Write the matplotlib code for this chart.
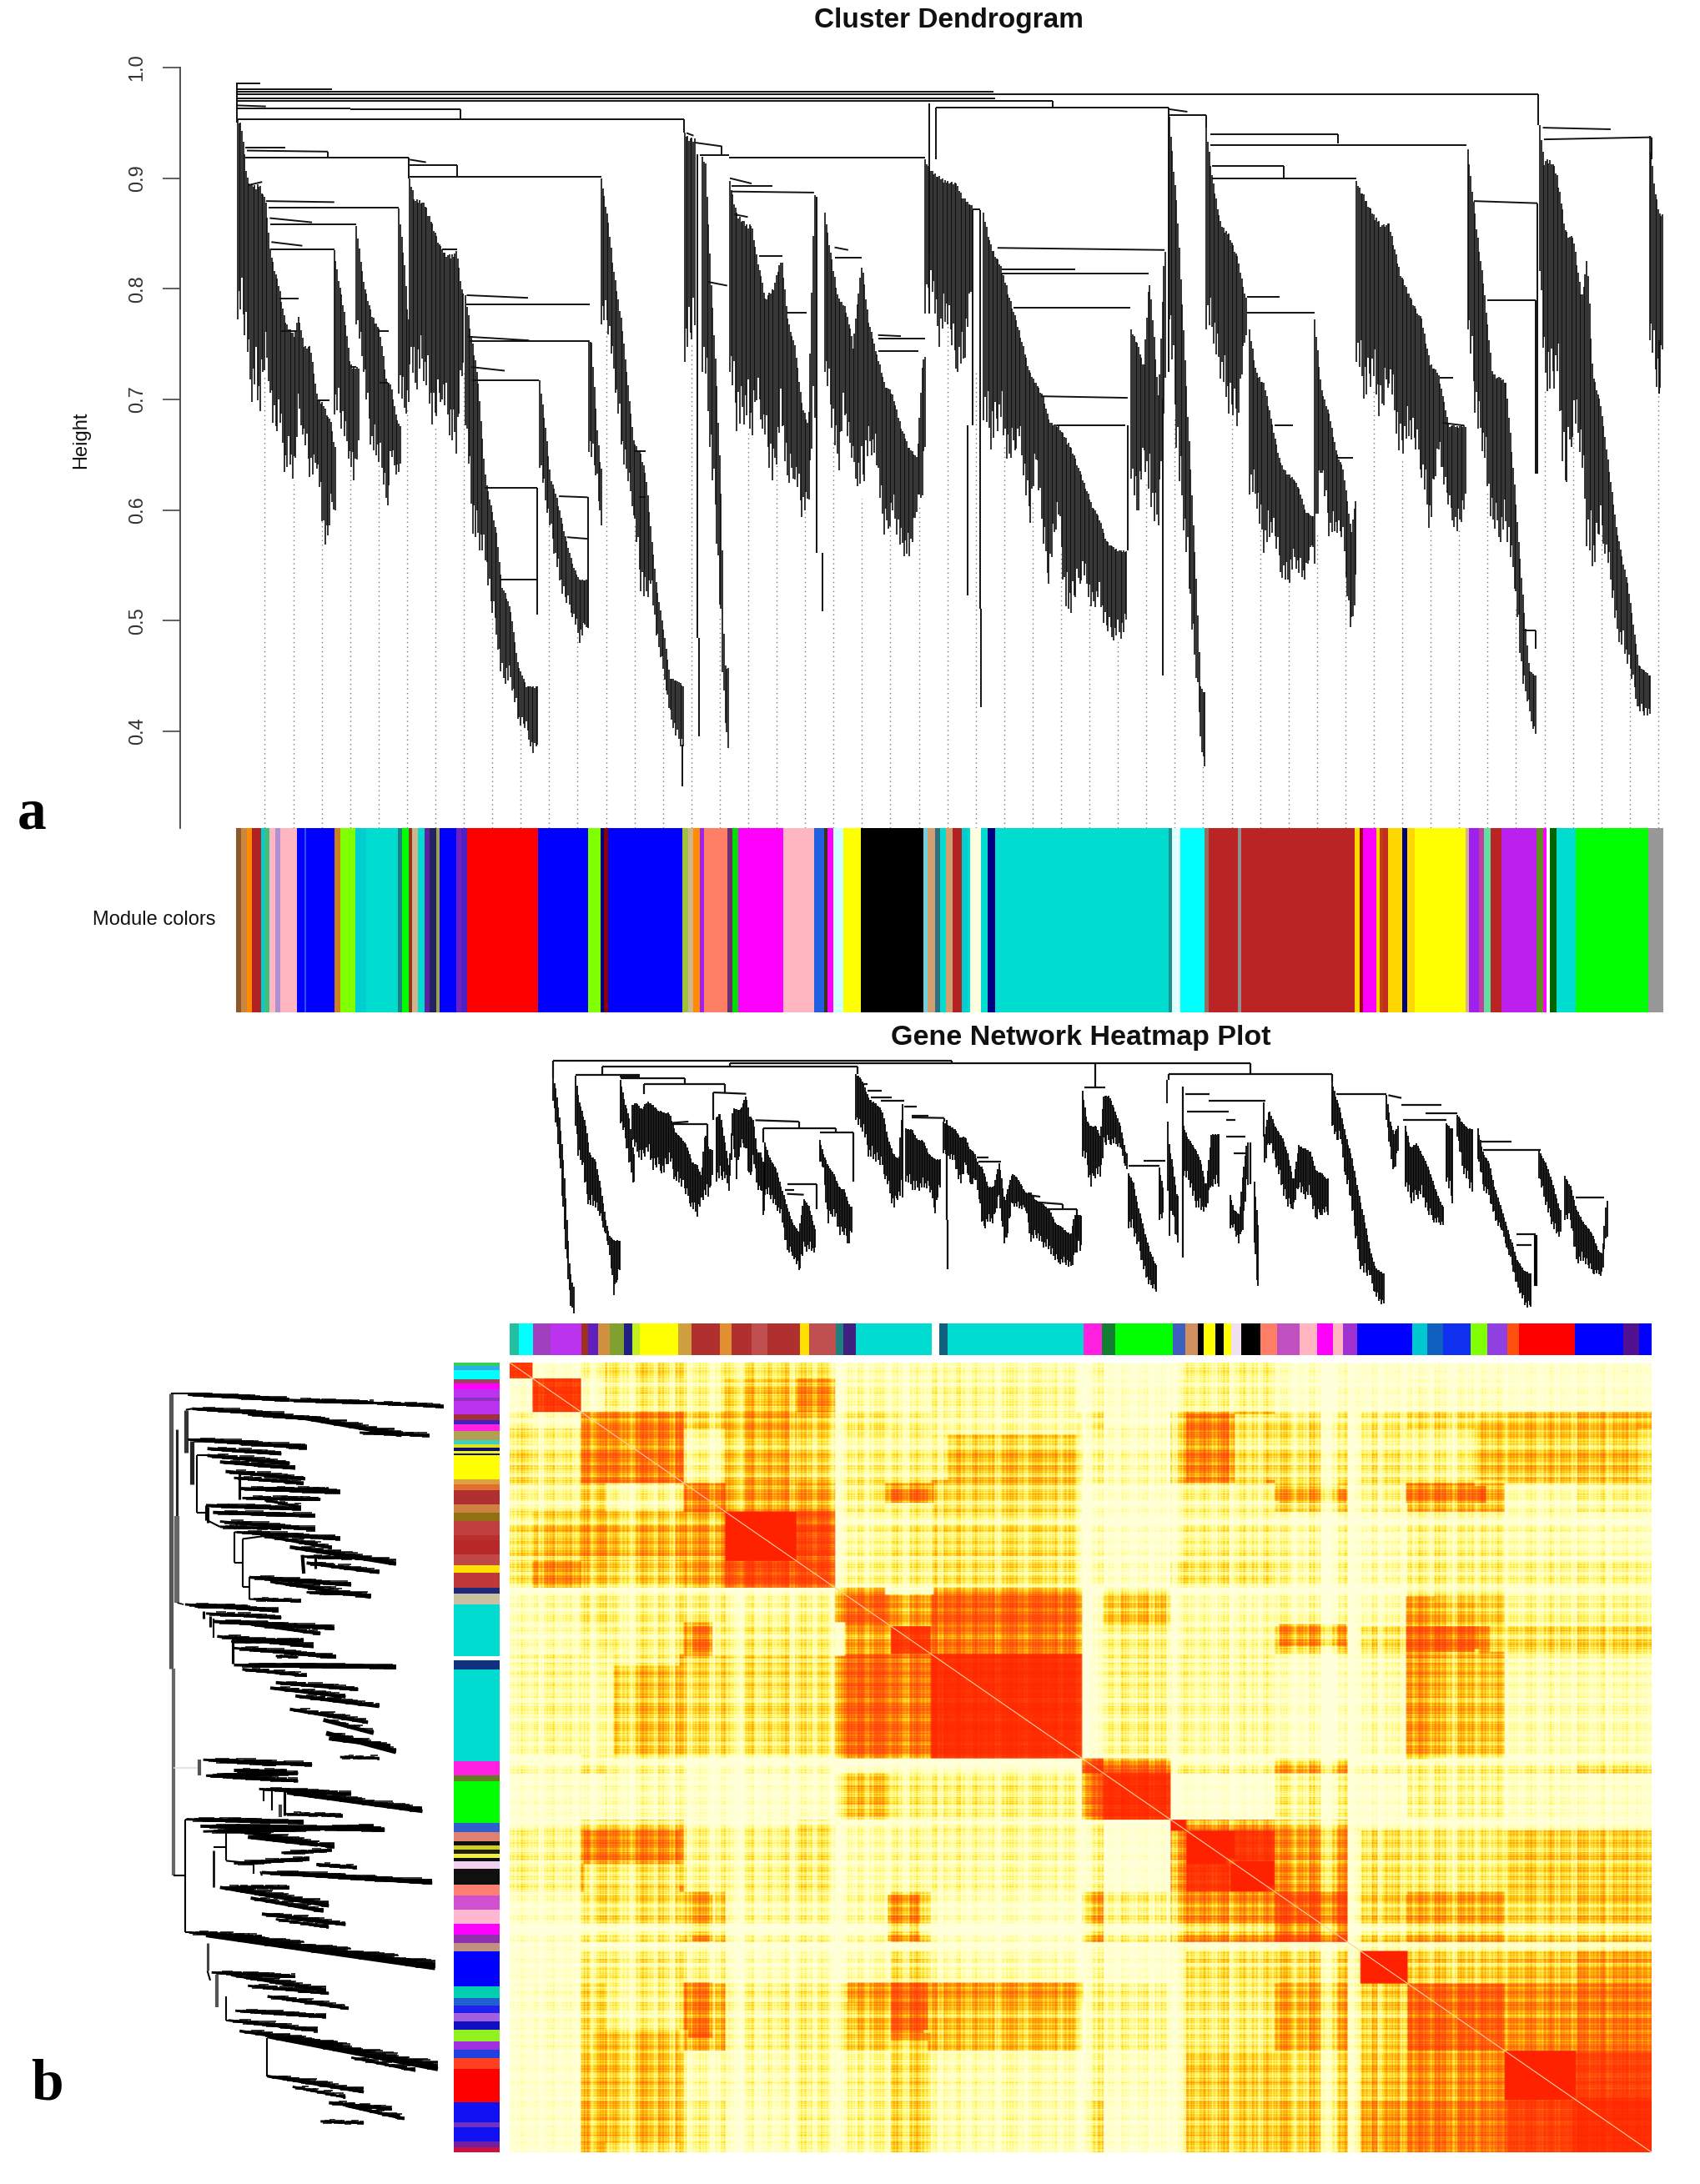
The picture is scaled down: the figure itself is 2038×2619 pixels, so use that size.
import numpy as np
import matplotlib
matplotlib.use('Agg')
import matplotlib.pyplot as plt
from matplotlib.colors import LinearSegmentedColormap

W, H = 2038, 2619
plt.rcParams['font.family'] = ['Liberation Sans', 'DejaVu Sans']

# ── panel a : dendrogram, (leaf position, read top, read bottom) ──
ribbons_a = [
    [(438,225,600),(445,230,600),(455,330,650),(462,345,765),(470,345,745),(478,345,785),(490,375,690),(498,470,740),(505,500,840),(515,540,790),(525,600,905),(535,620,880),(543,630,915),(550,590,775),(560,650,830),(572,650,905),(585,750,880),(595,755,1000),(603,780,1045),(610,790,960),(616,840,960)],
    [(616,470,780),(625,530,790),(635,590,830),(645,680,880),(652,690,915),(658,690,860)],
    [(657,425,610),(670,530,700),(685,590,860),(700,620,870),(713,720,975),(720,720,860),(730,780,893),(736,800,890)],
    [(735,392,740),(745,490,790),(752,600,760)],
    [(755,335,685),(765,375,750),(775,375,690),(785,385,740),(800,430,815),(815,470,750),(830,480,830),(842,470,860),(852,550,700)],
    [(858,555,800),(870,640,1000),(880,700,1030),(895,900,1060),(905,950,1150),(915,1000,1195),(925,1100,1290),(940,1140,1280),(955,1250,1360),(970,1290,1375),(985,1290,1430),(990,1290,1400)],
    [(995,715,880),(1005,800,950),(1015,900,1000),(1025,930,1070),(1040,1000,1130),(1055,1060,1160),(1068,1090,1210),(1080,1090,1180)],
    [(1085,640,850),(1090,640,870),(1100,800,900),(1107,880,1000)],
    [(1108,335,610),(1120,410,620),(1130,500,700),(1145,600,850),(1155,700,900),(1168,830,970),(1180,850,1110),(1190,890,1140),(1200,1000,1100),(1210,1100,1200),(1225,1200,1280),(1235,1275,1350),(1250,1280,1400),(1258,1290,1410)],
    [(1262,250,680),(1270,255,670),(1278,260,620)],
    [(1295,295,700),(1300,300,720),(1310,520,870),(1320,700,1000),(1330,950,1250),(1335,1250,1330),(1340,1255,1420)],
    [(1345,340,700),(1358,400,810),(1375,420,800),(1385,420,830),(1395,480,760),(1410,560,830),(1425,540,925),(1440,480,800),(1452,600,925),(1465,650,900),(1478,760,975),(1490,800,950),(1500,365,800)],
    [(1520,400,700),(1530,470,780),(1545,560,900),(1555,570,780),(1568,620,860),(1572,650,890),(1588,490,940),(1600,600,850),(1615,660,870),(1630,720,1025),(1645,740,970),(1660,800,1040),(1675,840,1060),(1690,860,960),(1700,680,930),(1703,670,850)],
    [(1705,300,590),(1715,320,520),(1730,330,660),(1745,340,600),(1760,340,700),(1775,370,700),(1790,385,550)],
    [(1813,400,790),(1826,460,845),(1845,500,800),(1858,550,885),(1878,620,830),(1898,700,995),(1910,720,860),(1923,745,1045),(1933,790,1100),(1950,800,960),(1963,820,1160),(1978,850,1150),(1995,900,1080),(2013,950,1155),(2025,970,1130),(2038,1015,1190),(2053,1030,1205),(2068,1035,1200),(2074,1035,1180)],
    [(2085,620,900),(2095,640,990),(2108,690,860),(2118,515,960),(2135,750,1000),(2146,470,750)],
    [(2155,220,600),(2170,400,880),(2190,800,1100),(2205,1100,1290),(2212,1290,1385),(2218,1300,1448)],
    [(2223,240,620),(2235,340,640),(2250,420,720),(2265,440,780),(2280,480,810),(2295,560,630)],
    [(2303,620,930),(2315,700,950),(2330,720,1050),(2345,800,1000),(2360,870,1080),(2372,890,1110),(2385,900,1060),(2395,920,1090),(2405,960,1090),(2418,970,1030)],
    [(2423,600,1060),(2435,730,880),(2450,780,1020),(2463,850,1000),(2475,880,1020),(2490,1000,1215),(2498,940,1110)],
    [(2500,340,680),(2515,370,760),(2530,400,720),(2545,420,800),(2560,420,720),(2580,510,870),(2600,560,820),(2620,600,900),(2635,680,1010),(2650,700,850),(2670,800,960),(2685,800,1010),(2698,800,960)],
    [(2705,280,620),(2720,420,800),(2735,540,870),(2750,700,1000),(2765,710,1020),(2775,715,1000),(2790,900,1100),(2805,1100,1280),(2818,1260,1340),(2828,1270,1385)],
    [(2838,235,510),(2845,300,730),(2860,300,745),(2870,330,720),(2885,430,950),(2900,450,800),(2915,560,870),(2925,480,1055),(2935,700,1080),(2950,760,1000),(2965,880,1080),(2980,1000,1200),(3000,1100,1250),(3020,1250,1340),(3040,1270,1350)],
    [(3040,255,640),(3050,360,720),(3058,400,740),(3068,400,640)],
]
# (leaf from, leaf to, read height from, read height to)
links_a = [
    (435,480,157,157),(435,612,168,168),(435,1830,172,172),(435,2835,177,177),(435,1833,185,185),(435,1940,190,190),
    (435,490,198,200),(435,645,204,204),(645,848,206,206),(848,848,206,222),(438,1260,224,224),(1260,1260,224,250),
    (436,436,157,230),(2835,2835,177,235),(1940,1940,190,202),
    (452,753,297,297),(455,604,283,285),(452,526,278,278),(604,604,285,295),(753,753,297,335),
    (755,1108,332,332),(755,842,310,310),(842,842,310,332),(755,785,300,305),(458,483,348,342),(490,616,378,380),(495,735,390,390),
    (497,575,410,418),(498,657,422,422),(500,616,468,468),(500,557,455,462),(515,550,562,562),(518,547,622,622),(586,607,752,752),
    (645,657,690,690),(697,717,622,622),(700,715,720,720),(815,842,468,468),(860,973,555,560),(860,1086,572,572),(862,975,633,640),
    (865,1085,642,642),(868,930,690,697),(870,993,715,715),(893,990,918,918),(990,990,918,1155),(920,990,1090,1090),
    (1030,1083,933,935),(1083,1083,935,1180),(1045,1082,1010,1013),(1170,1190,848,848),(1177,1190,935,935),
    (1265,1278,250,255),(1280,1330,268,275),(1330,1330,275,290),(1290,1343,292,292),(1345,1385,335,345),(1348,1424,350,350),
    (1348,1500,360,362),(1305,1340,530,537),(1353,1378,403,408),(1398,1442,482,482),(1450,1487,588,588),(1538,1563,465,470),
    (1538,1588,485,485),(1618,1693,660,660),(1618,1705,637,637),(1618,1660,630,632),(1343,1705,297,297),
    (1285,1285,290,1200),(1288,1288,1200,1385),(1258,1258,1400,1478),(1505,1505,370,1040),(1515,1515,1040,1150),
    (1713,1713,195,590),(1725,1725,202,300),(1725,2153,202,202),(2153,2188,205,210),(2153,2223,217,217),(2153,2153,202,700),
    (1792,1806,393,393),(1792,1792,395,800),(1783,1783,800,1120),(1806,1806,395,1145),(1808,1808,1145,1330),
    (1838,2146,466,470),(1846,1981,507,507),(1846,2116,515,515),(1868,2083,578,578),(1918,2078,745,748),(1948,2073,800,800),(2078,2078,800,1035),
    (2143,2143,750,1270),(2223,2223,217,240),(2298,2358,558,558),(2298,2423,588,588),(2463,2493,860,860),(2348,2383,800,800),
    (2230,2465,253,253),(2465,2465,253,270),(2230,2703,272,272),(2233,2366,312,312),(2366,2366,312,336),(2233,2500,336,336),
    (2653,2678,710,710),(2658,2698,795,800),(2716,2833,378,382),(2833,2833,382,890),(2740,2830,565,565),(2830,2830,565,890),(2808,2830,1185,1185),(2830,2830,1185,1220),
    (2843,2968,240,243),(2845,3043,262,258),(3043,3043,258,300),(3058,3058,640,740),
]

# ── panel a : module colour band, zoomed read-off (right edge, colour) ──
band_left_start = 38
band_left = [(50,'#8B5A2B'),(63,'#CD853F'),(73,'#FF8C00'),(92,'#B22222'),(100,'#00CED1'),(110,'#40C080'),(122,'#FFB6C1'),(133,'#B28FD0'),(167,'#FFB6C1'),
    (183,'#0000FF'),(186,'#3050FF'),(245,'#0000FF'),(258,'#CD7F20'),(290,'#7FFF00'),(312,'#00CED1'),(378,'#00DDD0'),(387,'#208080'),(400,'#00FF00'),(408,'#8B3A20'),(420,'#D2B48C'),
    (433,'#00DDD0'),(445,'#6020A0'),(458,'#222266'),(465,'#A0A040'),(500,'#0000FF'),(510,'#7020C0'),(523,'#5020C0'),(671,'#FF0000'),(776,'#0000FF'),(801,'#7FFF00'),(808,'#000080'),
    (817,'#8B0000'),(972,'#0000FF'),(985,'#A0C040'),(995,'#D2B48C'),(1008,'#FF8C00'),(1017,'#A020F0'),(1066,'#FF7F66'),(1077,'#703070'),(1089,'#00E000'),(1183,'#FF00FF'),(1248,'#FFB6C1'),
    (1268,'#2060E0'),(1276,'#403020'),(1288,'#FF00FF'),(1308,'#D0FFFF'),(1344,'#FFFF00'),(1476,'#000000'),(1484,'#70D0E0'),(1500,'#D2A070'),(1510,'#307080'),(1522,'#00DDD0'),(1536,'#D2A070'),(1555,'#B22222'),(1568,'#00CED1')]
band_right = [(40,'#00DDD0'),(62,'#FFFFE0'),(77,'#00DDD0'),(92,'#000080'),(455,'#00DDD0'),(463,'#209090'),(481,'#E0FFFF'),(530,'#00FFFF'),(540,'#907060'),(600,'#BB2424'),
    (608,'#909090'),(845,'#BB2424'),(855,'#FFD700'),(862,'#A00020'),(890,'#FF00FF'),(897,'#FFD700'),(905,'#C04010'),(915,'#C03020'),(945,'#FFD700'),(955,'#000080'),(970,'#FFD700'),
    (1077,'#FFFF00'),(1085,'#D2B48C'),(1105,'#A020F0'),(1115,'#C040A0'),(1130,'#60E0A0'),(1153,'#BB2424'),(1225,'#BB20EE'),(1240,'#609020'),(1247,'#FF00FF'),(1254,'#FFFFFF'),
    (1268,'#006400'),(1308,'#00DDD0'),(1460,'#00FF00'),(1492,'#989898')]

# ── panel b : top dendrogram, same kind of table ──
ribbons_top = [
    [(52,130,210),(60,170,310),(70,280,430),(80,430,650),(90,650,810),(97,810,940),(105,880,975)],
    [(112,120,300),(120,200,440),(130,250,440),(140,300,560),(150,400,600),(165,420,590),(180,520,640),(195,650,700),(205,700,780),(215,710,930),(222,712,870),(229,712,825)],
    [(232,135,290),(245,220,350),(255,265,430),(268,400,520)],
    [(265,225,350),(275,215,400),(290,240,430),(305,210,400),(320,225,460),(335,245,460),(350,250,480),(365,255,420),(380,320,510),(395,340,510),(410,370,560),(425,430,600),(438,440,630),(450,480,570),(460,320,565),(470,380,560),(478,385,500)],
    [(490,270,500),(500,250,500),(515,370,490),(525,450,540),(535,235,350),(545,240,500),(555,240,380),(570,190,380),(578,260,530),(590,280,420),(600,395,530),(610,395,540),(616,430,630)],
    [(620,360,550),(635,420,560),(650,450,600),(665,520,630),(680,590,760),(695,650,770),(712,680,830),(725,560,755),(740,590,755),(755,670,755)],
    [(768,350,430),(778,400,460),(790,440,660),(805,470,620),(820,520,690),(835,530,700),(845,580,735),(850,590,690)],
    [(865,115,280),(875,120,320),(885,150,320),(900,200,420),(920,220,430),(935,240,460),(950,340,520),(965,400,605),(980,420,560),(990,220,570)],
    [(1000,310,500),(1015,310,530),(1030,350,540),(1045,350,530),(1060,400,520),(1078,420,615),(1090,420,530)],
    [(1100,285,400),(1115,300,420),(1130,310,430),(1145,340,530),(1160,340,440),(1170,380,520),(1185,400,500),(1195,440,560),(1205,450,690),(1220,520,650),(1235,520,650),(1250,430,560),(1265,570,755),(1285,470,590),(1300,490,600),(1320,540,600),(1335,540,720),(1350,570,700),(1368,580,740),(1385,600,750),(1400,650,790),(1415,660,800),(1430,680,800),(1443,690,820),(1452,620,780),(1460,620,700),(1468,620,755)],
    [(1473,175,410),(1485,280,440),(1495,300,530),(1510,300,480),(1522,340,490),(1530,190,380),(1545,190,370),(1560,240,370),(1575,300,380),(1590,400,460)],
    [(1597,470,670),(1610,500,680),(1625,600,750),(1640,680,840),(1655,750,880),(1670,800,900)],
    [(1680,450,640),(1690,520,640)],
    [(1700,135,220),(1705,350,740),(1715,430,600),(1728,550,740)],
    [(1745,300,480),(1760,350,510),(1775,380,590),(1790,420,610),(1805,520,610),(1820,330,520),(1840,330,520)],
    [(1870,550,670),(1880,600,670),(1895,620,730),(1905,470,670),(1915,360,520)],
    [(1935,500,720),(1945,650,940)],
    [(1960,215,340),(1962,340,460),(1975,240,360),(1990,300,430),(2010,340,530),(2025,400,600),(2040,500,600),(2055,370,520),(2070,380,570),(2085,390,550),(2100,460,650),(2115,470,620),(2130,490,620)],
    [(2143,140,300),(2155,200,370),(2165,240,330),(2180,330,500),(2195,400,580),(2210,500,740),(2225,600,840),(2245,740,840),(2260,810,920),(2280,830,950)],
    [(2290,190,280),(2300,280,400),(2310,330,480),(2320,300,400)],
    [(2340,300,520),(2355,380,580),(2370,360,570),(2385,400,550),(2400,440,620),(2420,520,650),(2440,590,660)],
    [(2450,290,500),(2465,310,580)],
    [(2480,260,340),(2495,290,470),(2510,310,510),(2520,310,550)],
    [(2535,310,420),(2550,400,530),(2565,430,560),(2580,520,640),(2600,600,680),(2620,690,770),(2640,780,880),(2660,820,950),(2675,830,955)],
    [(2690,700,870)],
    [(2700,390,490),(2720,440,600),(2740,520,680),(2755,600,700)],
    [(2770,480,640),(2785,520,650),(2800,600,800),(2820,650,790),(2840,680,830),(2860,750,840),(2870,760,840),(2880,570,700)],
]
links_top = [
    (52,1122,65,65),(52,52,65,130),(1122,1122,65,75),(527,1924,75,75),(527,527,75,88),(183,870,88,88),(183,183,88,118),(112,285,118,118),(870,870,88,115),
    (230,285,122,122),(232,405,130,130),(405,405,130,150),(295,513,150,150),(295,295,150,185),(513,513,150,180),(482,570,180,185),(482,482,180,280),(370,465,295,295),(465,465,295,385),(368,415,290,285),
    (680,760,510,510),(675,700,530,530),(680,725,545,548),(595,712,280,285),(712,712,285,305),(615,810,308,308),(615,615,308,360),(810,810,308,325),(768,857,325,325),(857,857,325,500),(760,760,510,600),
    (880,895,150,150),(895,935,175,175),(905,962,198,198),(932,995,210,210),(995,1028,230,230),(1015,1060,265,265),(1015,1102,270,272),(1102,1102,272,285),(1108,1108,280,640),(1112,1112,640,815),
    (1190,1222,415,415),(1195,1255,430,430),(1330,1360,550,555),(1350,1420,575,582),(1420,1420,582,600),(1380,1458,600,600),(1458,1458,600,755),
    (1507,1507,75,162),(1478,1535,162,162),(1597,1680,445,445),(1637,1695,425,425),(1924,1924,75,115),(1704,2143,115,115),(1704,1704,115,135),(2143,2143,115,140),(1742,1742,160,775),
    (1750,1815,185,185),(1812,1965,210,210),(1755,1867,248,248),(1860,1885,278,278),(1860,1910,340,340),(1880,1915,400,400),(1925,1925,360,510),
    (2155,2290,185,185),(2295,2330,190,200),(2330,2437,225,225),(2395,2480,255,255),(2335,2450,278,278),(2549,2703,387,387),(2546,2625,358,358),(2799,2874,557,557),(2640,2690,690,690),(2640,2680,730,730),
]

# ── panel b : left dendrogram streaks (x0, y0, x1, y1, width) ──
streaks_left = [
    (135,113,500,124,4),(500,124,800,129,3.5),(800,129,1050,136,3),(150,140,480,152,3.5),(350,150,640,162,4),(520,155,900,190,4.5),(750,185,1000,190,3),
    (135,198,560,214,3),(205,215,470,225,4),(205,228,500,243,4),(250,240,520,252,4),(270,258,555,272,4),(300,270,550,280,3),(320,290,680,297,4),(420,290,640,292,4),(330,308,610,310,3),(410,312,540,325,3),
    (200,322,540,328,4),(225,335,590,342,4),(250,352,590,368,3),(250,362,470,365,3),(310,372,680,385,3),(395,378,650,402,3.5),(500,400,880,432,4.5),(560,430,820,448,4),(550,418,780,422,3),(355,457,720,472,3.5),(430,465,790,495,3.5),(560,485,760,490,3),(370,498,540,502,3),
    (125,508,460,520,3),(160,512,350,513,3),(200,525,470,533,3),(225,540,660,553,4),(360,545,610,563,4),(240,568,585,588,3.5),(290,578,550,575,3),(300,590,665,608,3),(450,605,530,607,3),(300,622,880,626,3.5),(330,630,560,642,3.5),(450,655,745,668,4),(430,665,700,682,4),(520,680,820,700,4),(500,705,780,730,4),(620,725,800,750,5),(630,750,880,785,6),(680,795,820,797,3),(640,760,860,775,5),
    (190,800,580,810,3),(225,802,450,810,2),(200,830,530,825,3),(205,830,530,840,3),(300,820,490,822,4),(390,855,720,865,3),(490,862,975,897,4.5),(480,902,690,905,2.5),
    (130,912,550,918,3),(180,925,840,932,4),(190,935,800,925,3),(320,935,660,965,3.5),(350,945,600,960,5),(470,975,650,970,3),(300,995,570,985,3),(595,997,740,1003,4),(400,1012,1010,1032,4),(250,1040,500,1040,2),(250,1040,640,1075,4),(360,1060,620,1085,4),(400,1090,700,1110,4),(450,1100,640,1115,3),
    (140,1125,400,1133,3),(200,1130,1020,1192,5),(220,1200,520,1208,3),(290,1205,630,1235,3),(350,1225,640,1240,3),(420,1245,710,1268,3.5),(305,1272,630,1283,3),(280,1290,600,1310,3),(320,1310,690,1340,3.5),(420,1320,1030,1382,5),(720,1360,950,1385,3),
    (420,1395,765,1425,3.5),(510,1415,700,1435,3),(640,1445,865,1457,4),(700,1450,910,1475,4),(610,1480,765,1483,3),
]
# (x0, y0, x1, y1, width, colour)
stems_left = [
    (75,112,75,628,5,'#555555'),(85,628,85,1018,4,'#666666'),(97,178,97,345,3,'#222222'),(95,342,95,505,6,'#666666'),(128,142,128,222,5,'#333333'),(150,200,150,282,5,'#222222'),(167,228,167,335,2,'k'),
    (75,112,215,112,2,'k'),(97,505,120,508,1.5,'k'),(128,142,150,140,2,'k'),(133,197,200,197,2,'k'),(167,228,205,228,2,'k'),(167,335,200,335,2,'k'),(85,1018,125,1018,2,'k'),(125,912,125,1125,2,'k'),(125,912,150,912,2,'k'),(125,1125,150,1125,2,'k'),
    (85,815,175,815,1.5,'#dddddd'),(175,800,175,830,4,'#555555'),(205,1145,205,1197,3,'#444444'),(205,1197,215,1215,2,'k'),(240,1205,240,1265,4,'#555555'),(272,1245,272,1290,2,'k'),(272,1290,300,1290,2,'k'),(417,1323,417,1395,2,'k'),(417,1395,450,1395,2,'k'),
    (330,385,330,475,2,'k'),(330,385,400,380,2,'k'),(330,475,355,475,2,'k'),(355,457,355,498,2,'k'),(355,457,400,457,2,'k'),(355,498,500,500,2,'k'),(302,372,302,430,2,'k'),(302,430,330,430,2,'k'),(302,372,380,375,2,'k'),
    (200,322,200,350,3,'k'),(205,350,250,362,2,'k'),(190,520,190,535,3,'k'),(215,530,215,550,3,'k'),(228,535,228,570,2,'k'),(295,570,295,620,3,'k'),(228,970,228,1040,2.5,'k'),(228,965,270,965,2,'k'),(272,935,272,990,2,'k'),(272,990,370,995,2,'k'),(370,990,370,1015,2,'k'),(395,1010,400,1018,2,'k'),
    (480,860,480,905,3,'k'),(465,885,465,908,4,'#444444'),(437,860,437,895,2,'k'),(405,855,405,878,2,'k'),(320,262,320,310,3,'k'),(205,325,205,355,3,'k'),(545,415,550,450,4,'k'),(590,420,590,440,3,'k'),
]

# ── panel b : colour bars (end, colour) ──
top_start = 97
top_bar = [(108,'#20C0A0'),(126,'#00FFFF'),(148,'#A040C0'),(187,'#BB33EE'),(195,'#A03020'),(208,'#6020C0'),(222,'#D09040'),(240,'#80A030'),(250,'#202080'),(260,'#C0F020'),(308,'#FFFF00'),(325,'#D0A040'),(360,'#B03030'),(375,'#E09030'),
    (400,'#B03030'),(420,'#C05050'),(460,'#B03030'),(472,'#FFE000'),(505,'#C05050'),(515,'#208080'),(530,'#402080'),(625,'#00DDD0'),(635,'#FFFFFF'),(645,'#106080'),(815,'#00DDD0'),(838,'#FF20E0'),(855,'#108030'),(927,'#00FF00'),
    (942,'#4060C0'),(958,'#D09060'),(965,'#000000'),(980,'#FFFF00'),(990,'#000000'),(1000,'#FFFF00'),(1012,'#F0E0F0'),(1036,'#000000'),(1057,'#FF7F66'),(1085,'#C050C0'),(1107,'#FFB6C1'),(1127,'#FF00FF'),(1140,'#FFB6C1'),(1158,'#A030D0'),
    (1226,'#0000FF'),(1245,'#00C8D0'),(1265,'#1060C0'),(1300,'#1030F0'),(1320,'#7FFF00'),(1345,'#9040E0'),(1360,'#FF5010'),(1430,'#FF0000'),(1490,'#0000FF'),(1510,'#501090'),(1526,'#0000FF')]
left_start = 112
left_bar = [(118,'#30D060'),(125,'#30B0E0'),(142,'#00FFFF'),(150,'#A04060'),(160,'#FF00FF'),(175,'#BB33EE'),(180,'#9030C0'),(205,'#BB33EE'),(215,'#A03040'),(222,'#4020C0'),(235,'#FF20E0'),(250,'#B0A050'),(258,'#40D0C0'),(264,'#E0E020'),(270,'#101060'),(274,'#F0F020'),(278,'#101060'),
    (320,'#FFFF00'),(330,'#E0A040'),(340,'#E07030'),(365,'#B03030'),(380,'#D08040'),(395,'#907010'),(420,'#C04040'),(430,'#B83030'),(455,'#B82828'),(475,'#C04848'),(488,'#FFE000'),(515,'#C03838'),(525,'#202878'),(545,'#C8C0A0'),
    (637,'#00DDD0'),(645,'#FFFFFF'),(660,'#103080'),(825,'#00DDD0'),(850,'#FF20E0'),(860,'#608020'),(935,'#00FF00'),(952,'#3060D0'),(968,'#E08070'),(975,'#101010'),(983,'#D0D020'),(990,'#202010'),(997,'#F0F040'),(1003,'#101010'),(1017,'#F0D0F0'),
    (1045,'#101010'),(1065,'#FF7F70'),(1090,'#D050D0'),(1115,'#FFB6D0'),(1135,'#FF00FF'),(1150,'#9030B0'),(1165,'#C09080'),(1228,'#0000FF'),(1248,'#00D0B0'),(1262,'#2060D0'),(1275,'#2020F0'),(1290,'#A060E0'),(1305,'#1010C0'),(1325,'#90F020'),(1340,'#A030E0'),(1355,'#2040E0'),(1375,'#FF4020'),
    (1435,'#FF0000'),(1470,'#1010F0'),(1480,'#7030C0'),(1505,'#1010F0'),(1515,'#7020A0'),(1524,'#D01040')]

# ── panel b : heatmap, modules along the diagonal and their overlap levels ──
module_edges = [0,28,90,120,218,270,360,408,478,528,716,743,828,848,958,1050,1066,1125,1245,1335,1430]
overlap = [
    [.95,.10,.30,.50,.30,.45,.45,.20,.20,.25,.25,.08,.25,.35,.15,.05,.10,.10,.10,.10],
    [0,.95,.15,.40,.30,.60,.75,.25,.20,.30,.20,.12,.30,.30,.15,.10,.10,.15,.10,.10],
    [0,0,.75,.80,.55,.70,.60,.40,.30,.55,.40,.10,.60,.70,.40,.10,.40,.50,.60,.65],
    [0,0,0,.85,.30,.65,.55,.40,.35,.55,.30,.20,.65,.70,.40,.10,.40,.35,.50,.50],
    [0,0,0,0,.80,.70,.70,.35,.60,.50,.10,.10,.30,.30,.55,.10,.30,.65,.20,.30],
    [0,0,0,0,0,1.0,.90,.25,.40,.45,.15,.08,.30,.30,.25,.05,.15,.30,.20,.15],
    [0,0,0,0,0,0,.90,.30,.40,.45,.20,.12,.50,.40,.30,.05,.20,.35,.30,.30],
    [0,0,0,0,0,0,0,.85,.70,.85,.10,.60,.25,.20,.25,.05,.20,.55,.30,.30],
    [0,0,0,0,0,0,0,0,.95,.80,.10,.35,.25,.25,.55,.05,.45,.75,.45,.50],
    [0,0,0,0,0,0,0,0,0,.97,.08,.35,.35,.25,.15,.05,.20,.60,.20,.20],
    [0,0,0,0,0,0,0,0,0,0,.95,.85,.40,.30,.70,.15,.25,.35,.30,.45],
    [0,0,0,0,0,0,0,0,0,0,0,.97,.05,.05,.35,.05,.08,.30,.15,.10],
    [0,0,0,0,0,0,0,0,0,0,0,0,1.0,.80,.70,.20,.25,.25,.25,.25],
    [0,0,0,0,0,0,0,0,0,0,0,0,0,.95,.75,.10,.45,.40,.55,.55],
    [0,0,0,0,0,0,0,0,0,0,0,0,0,0,.90,.15,.55,.70,.55,.60],
    [0,0,0,0,0,0,0,0,0,0,0,0,0,0,0,.10,.20,.20,.15,.20],
    [0,0,0,0,0,0,0,0,0,0,0,0,0,0,0,0,1.0,.65,.60,.70],
    [0,0,0,0,0,0,0,0,0,0,0,0,0,0,0,0,0,.85,.75,.80],
    [0,0,0,0,0,0,0,0,0,0,0,0,0,0,0,0,0,0,1.0,.92],
    [0,0,0,0,0,0,0,0,0,0,0,0,0,0,0,0,0,0,0,.95],
]
# finer patches (x0, x1, y0, y1, level), mirrored over the diagonal
patches = [
    (848,908,93,213,.80),(908,958,93,213,.35),(90,131,528,710,.25),(131,218,528,710,.60),(218,253,470,530,.72),(253,420,470,530,.35),
    (548,718,130,213,.62),(411,548,130,213,.35),(478,523,228,253,.80),(963,1048,228,253,.75),(1138,1223,223,253,.85),(1131,1213,433,710,.62),(1131,1213,478,518,.85),
    (963,1048,473,513,.75),(1230,1430,478,518,.55),(423,718,1123,1158,.72),(478,523,1123,1208,.85),(218,253,1123,1208,.78),(963,1048,1123,1208,.70),
    (103,213,1208,1412,.62),(478,523,1228,1412,.50),(853,908,848,898,1.0),(908,958,903,948,1.0),(128,203,848,898,.78),(103,213,948,1038,.50),(223,250,958,1038,.70),(103,218,908,948,.45),
    (1245,1330,1245,1330,1.0),(1066,1125,1125,1245,.55),(1330,1430,1330,1430,.97),(270,360,270,360,1.0),(120,218,120,218,.82),
]
stripe_weight = [
    .9,1.0,1.1,.9,1.0,.7,1.0,1.2,.9,1.0,1.1,.8,1.0,1.2,.7,1.0,1.2,.9,1.1,.8,
    .8,.6,1.0,1.2,1.0,.8,1.2,1.0,.7,1.1,1.2,.8,1.0,1.2,1.1,.7,.9,1.2,1.0,.8,
    .6,1.1,1.3,.8,1.0,1.2,.9,1.1,1.3,.7,1.0,1.2,1.0,.8,1.2,1.1,.7,.5,.7,1.1,
    .9,1.2,.8,1.0,1.2,1.1,.8,1.2,1.0,.7,1.1,1.2,1.0,.9,1.2,.8,1.1,.9,1.2,1.0,
    .8,1.2,1.0,.9,1.1,.7,1.0,1.2,1.1,.9,.8,1.1,1.2,1.0,.9,1.1,.8,1.0,1.1,.7,
    .5,.7,1.0,1.2,.9,1.1,.8,1.2,1.0,.9,1.1,1.2,.8,1.0,1.1,.7,.5,.8,1.2,1.1,
    .9,1.2,1.0,.8,1.1,1.2,.7,1.0,1.2,.9,1.1,.8,1.2,1.0,.9,1.2,1.1,.7,1.0,.8,
    1.2,1.0,.5,.4,.6,1.0,1.2,.8,1.1,1.0,.9,1.2,.7,1.1,1.0,1.2,.8,1.1,.9,1.2,
    1.0,.8,1.2,1.1,.9,.7,1.2,1.0,1.1,.8,1.2,.9,1.0,1.2,.8,1.1,1.0,.9,1.2,1.1,
    .8,1.0,1.2,.9,1.1,1.0,.8,1.2,1.1,.9,1.0,1.2,.8,1.1,1.0,1.2,.9,1.1,1.0,.9,
]
fine_weight = [1.1,.85,1.2,.95,.75,1.15,1.0,.8,1.25,.9,1.05,.78,1.2,1.0,.88,1.15,.72,1.1,.95,1.22,.82,1.0,1.18,.76,1.08,.92,1.25,.85,1.0,.8,1.15,.98,.74,1.2,.9,1.05,.83]
tooth = [1.0,.72,.9,.55,.85,1.0,.65,.95,.6,.8,.98,.7,.88,.5,.93,.75,1.0,.62,.83,.92,.58,.78,.96]
heat_colors = ['#FFFFDC','#FFFFA8','#FFF040','#FFB000','#FF6010','#FF2200']


def read_height(r):
    # reading taken on the enlarged crop, 1.0 and 0.4 marks at 127 and 1375
    return 1.0 - (np.asarray(r, dtype=float) - 127) / 2080


def px_axes(fig, left, top, right, bottom):
    ax = fig.add_axes([left / W, 1 - bottom / H, (right - left) / W, (bottom - top) / H])
    ax.patch.set_alpha(0)
    return ax


def draw_tree(ax, ribbons, links, conv=lambda r: r, lw=1.4, step=2.6, spike=1.15):
    for rib in ribbons:
        x, top, bot = [np.array(v, dtype=float) for v in zip(*rib)]
        if len(x) == 1:
            ax.plot([x[0], x[0]], [conv(top[0]), conv(bot[0])], color='k', lw=3)
            continue
        # leaves as many thin uneven spikes inside the read envelope
        xs = np.arange(x[0], x[-1] + step, step)
        t = np.interp(xs, x, top)
        b = np.interp(xs, x, bot)
        f = 0.5 + 0.5 * np.array([tooth[k % len(tooth)] for k in range(len(xs))])
        start = t + (b - t) * (1 - f) * 0.1
        stop = t + (b - t) * f
        ax.vlines(xs, conv(start), conv(stop), color='#050505', lw=spike, zorder=3)
    for x0, x1, r0, r1 in links:
        ax.plot([x0, x1], [conv(r0), conv(r1)], color='#111111', lw=lw, zorder=3,
                solid_capstyle='butt')


def draw_segments(ax, start, segs, vertical=False):
    ends = np.array([s[0] for s in segs], dtype=float)
    lefts = np.r_[start, ends[:-1]]
    colors = [s[1] for s in segs]
    if vertical:
        ax.barh(lefts, 1, height=ends - lefts, align='edge', color=colors, lw=0)
    else:
        ax.bar(lefts, 1, width=ends - lefts, align='edge', color=colors, lw=0)


fig = plt.figure(figsize=(W / 100, H / 100), dpi=100, facecolor='white')

# ── a : dendrogram ──
ax = px_axes(fig, 216, 60, 1994, 993)
ax.set_xlim(332, 3065)
ax.set_ylim(read_height(1557), read_height(94))
draw_tree(ax, ribbons_a, links_a, read_height)

# dotted guides from the band up to the tree
for gx in np.arange(488, 3068, 52.4):
    lowest = 700
    for rib in ribbons_a:
        xs = [p[0] for p in rib]
        if xs[0] <= gx <= xs[-1]:
            lowest = np.interp(gx, xs, [p[2] for p in rib])
            break
    ax.plot([gx, gx], [read_height(1557), read_height(lowest)], color='#777777',
            lw=1.0, ls=(0, (1, 3)), zorder=1)

for s in ['top', 'right', 'bottom']:
    ax.spines[s].set_visible(False)
ax.spines['left'].set_bounds(read_height(1557), 1.0)
ax.spines['left'].set_color('#444444')
ax.spines['left'].set_linewidth(1.3)
ax.set_xticks([])
ax.set_yticks([0.4, 0.5, 0.6, 0.7, 0.8, 0.9, 1.0])
ax.set_yticklabels(['0.4', '0.5', '0.6', '0.7', '0.8', '0.9', '1.0'], rotation=90, va='center', fontsize=17, color='#333333')
ax.tick_params(axis='y', length=15, width=1.2, color='#444444', pad=14)

fig.text(1138 / W, 1 - 25 / H, 'Cluster Dendrogram', ha='center', va='center', fontsize=24, fontweight='bold', color='#111111')
fig.text(97 / W, 1 - 528 / H, 'Height', ha='center', va='center', rotation=90, fontsize=17, color='#111111')
fig.text(185 / W, 1 - 1103 / H, 'Module colors', ha='center', va='center', fontsize=17, color='#111111')
fig.text(38 / W, 1 - 976 / H, 'a', ha='center', va='center', fontsize=50, fontweight='bold', family='Liberation Serif')
fig.text(56 / W, 1 - 2501 / H, 'b', ha='center', va='center', fontsize=50, fontweight='bold', family='Liberation Serif')
fig.text(1296 / W, 1 - 1244 / H, 'Gene Network Heatmap Plot', ha='center', va='center', fontsize=24.5, fontweight='bold', color='#111111')

# ── a : module colours ──
ax = px_axes(fig, 283, 993, 1994, 1214)
left_px = [(260 + e / 1.742, c) for e, c in band_left]
right_px = [(1140 + e / 1.746, c) for e, c in band_right]
draw_segments(ax, 260 + band_left_start / 1.742, left_px + right_px)
ax.set_xlim(283, 1994)
ax.set_ylim(0, 1)
ax.axis('off')

# ── b : top dendrogram ──
ax = px_axes(fig, 611, 1250, 1980, 1587)
ax.set_xlim(-65, 3002)
ax.set_ylim(1011, 0)
draw_tree(ax, ribbons_top, links_top, lw=1.6, step=3.4, spike=1.3)
ax.axis('off')

# ── b : left dendrogram ──
ax = px_axes(fig, 180, 1600, 544, 2600)
ax.set_xlim(0, 1087)
ax.set_ylim(1568, 0)
for x0, y0, x1, y1, w in streaks_left:
    ax.plot([x0, x1], [y0, y1], color='k', lw=w * 0.7, solid_capstyle='butt')
    # feathered tips along each streak
    n = max(int((x1 - x0) / 8), 2)
    ts = np.linspace(0.05, 0.95, n)
    ys = y0 + (y1 - y0) * ts + np.array([(tooth[k % len(tooth)] - .8) * 14 for k in range(n)])
    xa = x0 + (x1 - x0) * ts
    xb = xa + (x1 - x0) * 0.22 * np.array([tooth[(k + 5) % len(tooth)] for k in range(n)])
    ax.hlines(ys, xa, np.minimum(xb, x1), color='k', lw=1.1)
for x0, y0, x1, y1, w, c in stems_left:
    ax.plot([x0, x1], [y0, y1], color=c, lw=w * 0.75, solid_capstyle='butt')
ax.axis('off')

# ── b : colour bars ──
ax = px_axes(fig, 611, 1587, 1980, 1625)
draw_segments(ax, top_start, top_bar)
ax.set_xlim(97, 1526)
ax.set_ylim(0, 1)
ax.axis('off')

ax = px_axes(fig, 544, 1634, 599, 2581)
draw_segments(ax, left_start, left_bar, vertical=True)
ax.set_ylim(1524, 112)
ax.set_xlim(0, 1)
ax.axis('off')

# ── b : heatmap ──
B = np.array(overlap)
B = B + np.triu(B, 1).T
sub = 4
n = len(stripe_weight) * sub
w = np.repeat(stripe_weight, sub) ** 1.1 * np.array([fine_weight[k % len(fine_weight)] for k in range(n)])
centers = (np.arange(n) + 0.5) * module_edges[-1] / n
idx = np.searchsorted(module_edges, centers) - 1
L = B[np.ix_(idx, idx)]
for x0, x1, y0, y1, level in patches:
    mx = (centers >= x0) & (centers < x1)
    my = (centers >= y0) & (centers < y1)
    L[np.ix_(my, mx)] = level
    L[np.ix_(mx, my)] = level
M = L ** (1.25 / np.outer(w, w) ** 1.3)
cmap = LinearSegmentedColormap.from_list('heat', heat_colors)
ax = px_axes(fig, 611, 1634, 1980, 2581)
ax.imshow(M, cmap=cmap, vmin=0, vmax=1, aspect='auto', interpolation='bilinear',
          extent=[0, module_edges[-1], module_edges[-1], 0])
ax.plot([0, module_edges[-1]], [0, module_edges[-1]], color='#FFD0A0', lw=0.8)
ax.axis('off')

fig.savefig('out.png', dpi=100, facecolor='white')
